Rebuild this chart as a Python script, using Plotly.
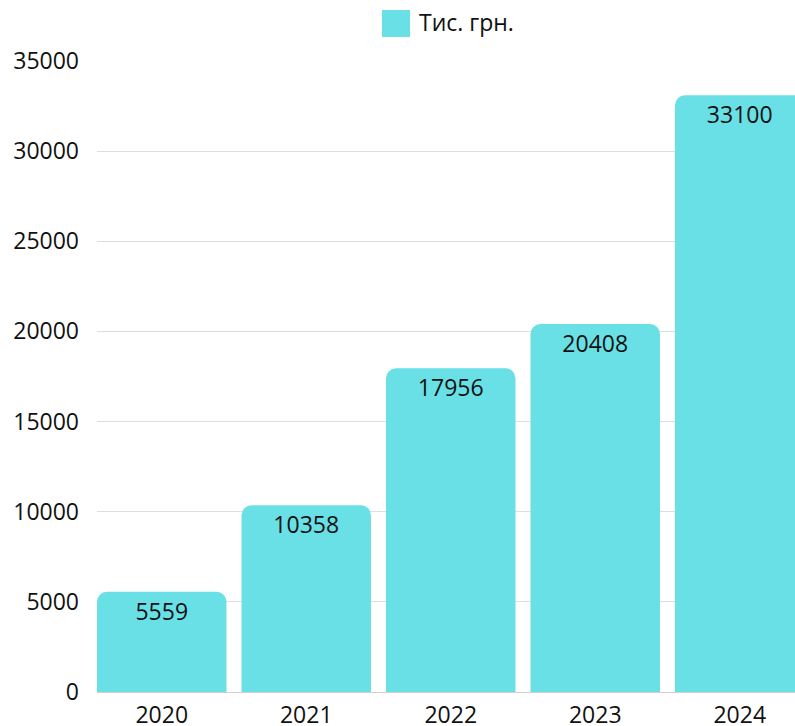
import plotly.graph_objects as go

years = ["2020", "2021", "2022", "2023", "2024"]
values = [5559, 10358, 17956, 20408, 33100]
series_name = "Тис. грн."
y_ticks = [0, 5000, 10000, 15000, 20000, 25000, 30000, 35000]

BAR_COLOR = "rgb(104,224,230)"
FONT = "Open Sans"
TEXT_COLOR = "#111111"
FS = 23

xs = list(range(len(years)))

fig = go.Figure()
# visible bars with rounded top corners
fig.add_trace(go.Bar(
    x=xs,
    y=values,
    name=series_name,
    marker=dict(color=BAR_COLOR, cornerradius=10, line=dict(width=0)),
    showlegend=False,
    hoverinfo="x+y",
))
# transparent overlay carrying the value labels (no corner padding)
fig.add_trace(go.Bar(
    x=xs,
    y=values,
    name=series_name,
    marker=dict(color="rgba(0,0,0,0)", line=dict(width=0)),
    text=[str(v) for v in values],
    textposition="inside",
    insidetextanchor="end",
    textangle=0,
    textfont=dict(family=FONT, size=FS, color=TEXT_COLOR),
    showlegend=False,
    hoverinfo="skip",
))

bw = 0.896
fig.update_layout(
    width=795, height=726,
    margin=dict(l=97, r=0, t=61, b=34, autoexpand=False),
    plot_bgcolor="white", paper_bgcolor="white",
    barmode="overlay",
    bargap=1 - bw,
    font=dict(family=FONT, size=FS, color=TEXT_COLOR),
    uniformtext=dict(minsize=FS, mode="show"),
    xaxis=dict(
        range=[-bw / 2, -bw / 2 + 698 / 144.5],
        tickmode="array",
        tickvals=xs,
        ticktext=years,
        showgrid=False,
        zeroline=False,
        showline=True, linecolor="#d0d0d0", linewidth=1,
        ticks="",
        ticklabelstandoff=2,
        automargin=False,
        tickfont=dict(family=FONT, size=FS, color=TEXT_COLOR),
    ),
    yaxis=dict(
        range=[0, 35000],
        tickmode="array",
        tickvals=y_ticks,
        ticktext=[str(t) for t in y_ticks],
        showgrid=True, gridcolor="#dedede", gridwidth=1,
        zeroline=False,
        ticks="",
        ticklabelstandoff=17,
        automargin=False,
        tickfont=dict(family=FONT, size=FS, color=TEXT_COLOR),
    ),
    shapes=[dict(
        type="rect", xref="paper", yref="paper",
        x0=(382 - 97) / 698, x1=(410 - 97) / 698,
        y0=(726 - 34 - 37) / 631, y1=(726 - 34 - 10) / 631,
        fillcolor=BAR_COLOR, line=dict(width=0), layer="above",
    )],
    annotations=[dict(
        text=series_name, xref="paper", yref="paper",
        x=(417 - 97) / 698, y=(726 - 34 - 22) / 631,
        xanchor="left", yanchor="middle", showarrow=False,
        font=dict(family=FONT, size=FS, color=TEXT_COLOR),
    )],
)

fig.write_html(
    "out.html",
    config={"displayModeBar": False},
    post_script="document.body.style.margin='0';document.body.style.overflow='hidden';",
)
